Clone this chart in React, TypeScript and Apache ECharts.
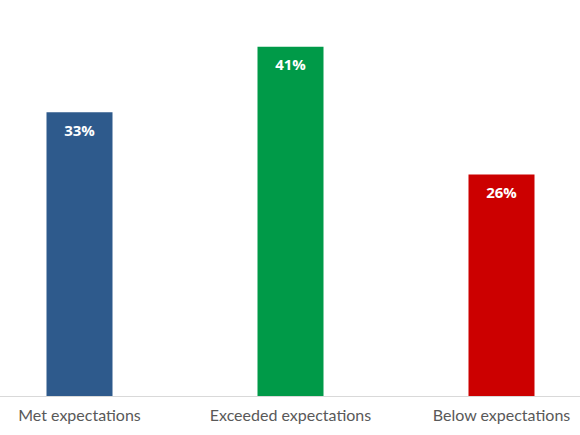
import React, { useEffect, useRef } from "react";
import * as echarts from "echarts";

const categories = ["Met expectations", "Exceeded expectations", "Below expectations"];
const values = [33.3, 41, 26];
const colors = ["#2E5A8C", "#009A48", "#CC0000"];

export default function App() {
  const ref = useRef<HTMLDivElement>(null);
  useEffect(() => {
    const chart = echarts.init(ref.current!, null, { renderer: "svg" });
    chart.setOption({
      animation: false,
      grid: { left: 0, right: 0, top: 12.6, bottom: 39, containLabel: false },
      xAxis: {
        type: "category",
        data: categories,
        axisTick: { show: false },
        axisLine: { lineStyle: { color: "#D9D9D9", width: 1 } },
        axisLabel: { color: "#595959", fontSize: 16, fontFamily: "Lato", margin: 10, interval: 0 },
      },
      yAxis: { type: "value", min: 0, max: 45, show: false, splitLine: { show: false } },
      series: [
        {
          type: "bar",
          barWidth: 66,
          data: values.map((v, i) => ({ value: v, itemStyle: { color: colors[i] } })),
          label: {
            show: true,
            position: "insideTop",
            distance: 10,
            color: "#FFFFFF",
            fontWeight: "bold",
            fontSize: 15,
            fontFamily: "Open Sans",
            formatter: (p: any) => Math.round(p.value) + "%",
          },
        },
      ],
    });
    return () => chart.dispose();
  }, []);
  return (
    <div style={{ position: "absolute", left: 0, top: 0, width: 580, height: 435, overflow: "hidden", background: "#fff" }}>
      <div ref={ref} style={{ position: "absolute", left: -26, top: 0, width: 633, height: 435 }} />
    </div>
  );
}
